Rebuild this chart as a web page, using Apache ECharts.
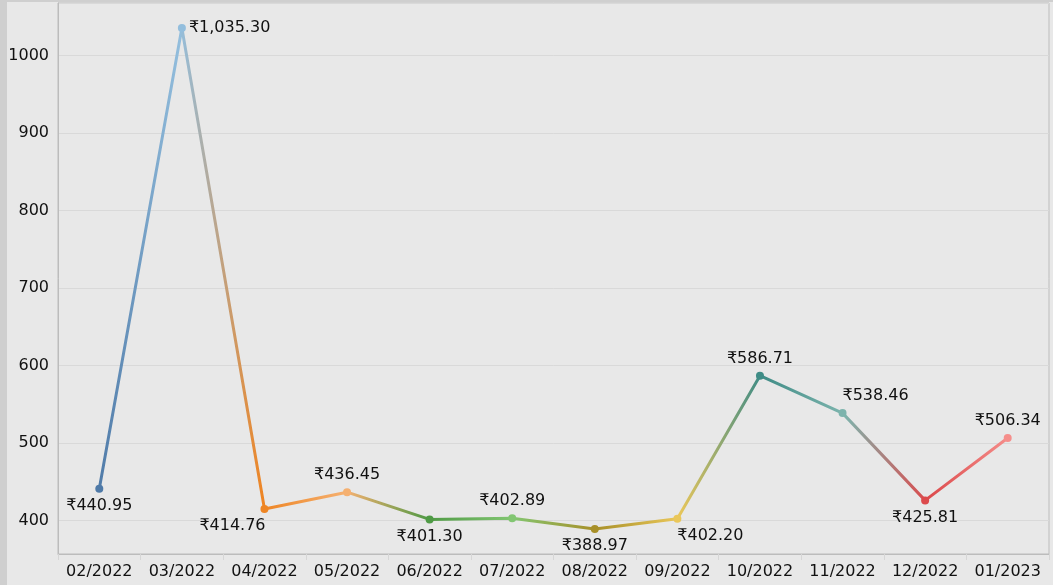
<!DOCTYPE html>
<html>
<head>
<meta charset="utf-8">
<script src="https://cdn.jsdelivr.net/npm/echarts@6/dist/echarts.min.js"></script>
<style>
  html, body { margin: 0; padding: 0; background: #ffffff; }
  #mychart { width: 1053px; height: 588px; }
</style>
</head>
<body>
<div id="mychart"></div>
<script>
// months shown on the x axis
const months = ['02/2022', '03/2022', '04/2022', '05/2022', '06/2022', '07/2022',
  '08/2022', '09/2022', '10/2022', '11/2022', '12/2022', '01/2023'];
// monthly amount in rupees
const amounts = [440.95, 1035.30, 414.76, 436.45, 401.30, 402.89,
  388.97, 402.20, 586.71, 538.46, 425.81, 506.34];
// one colour per month (tableau 20)
const pointColors = ['#4e79a7', '#93bedd', '#ee8524', '#f5b070', '#4f9a45', '#82c672',
  '#a89028', '#eac75a', '#3f8c86', '#7db4ad', '#dc4a4c', '#f58e8b'];

// where each value label sits: [position, x offset]
const labelSpots = [
  ['bottom', 0], ['right', 0], ['bottom', -32], ['top', 0], ['bottom', 0], ['top', 0],
  ['bottom', 0], ['bottom', 33], ['top', 0], ['top', 33], ['bottom', 0], ['top', 0]
];

function rupee(v) {
  return '₹' + v.toLocaleString('en-US', { minimumFractionDigits: 2, maximumFractionDigits: 2 });
}

function drawChart() {
  let myChart = echarts.init(document.getElementById('mychart'));
  const font = '"DejaVu Sans", "Noto Sans", sans-serif';

  // horizontal gradient through every point colour
  let stops = pointColors.map((c, i) => ({ offset: i / (pointColors.length - 1), color: c }));

  let seriesData = amounts.map((v, i) => ({
    value: v,
    itemStyle: { color: pointColors[i] },
    label: {
      position: labelSpots[i][0],
      offset: [labelSpots[i][1], 0],
      distance: labelSpots[i][0] === 'right' ? 3 : 5
    }
  }));

  let option = {
    backgroundColor: '#e8e8e8',
    textStyle: { fontFamily: font },
    graphic: [
      { type: 'rect', left: 0, top: 0, shape: { width: 7, height: 585 }, style: { fill: '#cfcfcf' }, silent: true },
      { type: 'rect', left: 0, top: 0, shape: { width: 1053, height: 2 }, style: { fill: '#cfcfcf' }, silent: true },
      { type: 'rect', left: 0, top: 585, shape: { width: 1053, height: 3 }, style: { fill: '#ffffff' }, silent: true }
    ],
    grid: {
      left: 58,
      right: 4,
      top: 3,
      bottom: 34,
      show: true,
      backgroundColor: 'transparent',
      borderColor: '#bcbcbc',
      borderWidth: 1
    },
    xAxis: {
      type: 'category',
      data: months,
      boundaryGap: true,
      axisLine: { show: true, lineStyle: { color: '#bcbcbc', width: 1 } },
      axisTick: { show: true, interval: 0, length: 6, lineStyle: { color: '#d6d6d6' } },
      axisLabel: { interval: 0, color: '#111111', fontSize: 16, margin: 10, fontFamily: font }
    },
    yAxis: {
      type: 'value',
      min: function (v) { return v.min - (v.max - v.min) * 0.05; },
      max: function (v) { return v.max + (v.max - v.min) * 0.05; },
      axisLine: { show: true, lineStyle: { color: '#bcbcbc', width: 1 } },
      axisTick: { show: false },
      axisLabel: {
        color: '#111111', fontSize: 16, margin: 9, fontFamily: font,
        showMinLabel: false, showMaxLabel: false,
        formatter: v => String(v)
      },
      splitLine: { lineStyle: { color: '#d9d9d9', width: 1 } }
    },
    series: [{
      type: 'line',
      data: seriesData,
      symbol: 'circle',
      symbolSize: 8,
      lineStyle: {
        width: 3,
        color: new echarts.graphic.LinearGradient(0, 0, 1, 0, stops)
      },
      label: {
        show: true,
        color: '#111111',
        fontSize: 16,
        fontFamily: font,
        formatter: p => rupee(p.value)
      },
      emphasis: { disabled: true }
    }],
    animation: false
  };
  option && myChart.setOption(option);
  return myChart;
}

drawChart();
</script>
</body>
</html>
